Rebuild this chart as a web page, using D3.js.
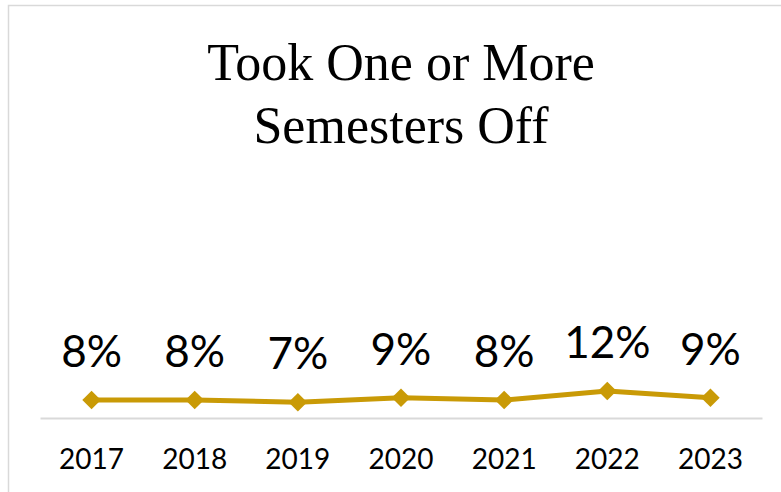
<!DOCTYPE html>
<html>
<head>
<meta charset="utf-8">
<script src="https://cdn.jsdelivr.net/npm/d3@7"></script>
<style>
  body { margin: 0; background: #fff; }
  svg { display: block; }
</style>
</head>
<body>
<svg width="781" height="492"></svg>
<script>
// values
let years = ["2017", "2018", "2019", "2020", "2021", "2022", "2023"];
let percentages = [8, 8, 7, 9, 8, 12, 9];
let titleLines = ["Took One or More", "Semesters Off"];

let svg = d3.select("svg");
let gold = "#C99A06";

// chart frame (right and bottom edges fall outside the picture)
svg.append("rect")
    .attr("x", 8.5).attr("y", 5.5)
    .attr("width", 800).attr("height", 600)
    .attr("fill", "#fff")
    .attr("stroke", "#d9d9d9")
    .attr("stroke-width", 1.5);

svg.append("g")
    .selectAll("text")
    .data(titleLines)
    .enter()
    .append("text")
    .attr("x", 401)
    .attr("y", function (d, i) { return 80 + i * 63; })
    .attr("text-anchor", "middle")
    .style("font-family", "'Liberation Serif', serif")
    .style("font-size", "52px")
    .attr("fill", "#000")
    .text(function (d) { return d; });

let x = d3.scaleBand()
    .domain(years)
    .range([40, 762]);

let y = d3.scaleLinear()
    .domain([0, 100])
    .range([418, 193]);

// category axis
let axis = svg.append("g")
    .attr("transform", "translate(0,418)")
    .call(d3.axisBottom(x).tickSize(0).tickPadding(0));
axis.select(".domain")
    .attr("stroke", "#d9d9d9")
    .attr("stroke-width", 2);
axis.selectAll(".tick text")
    .attr("dy", null)
    .attr("y", 51)
    .style("font-family", "Lato, sans-serif")
    .style("font-size", "28px")
    .attr("fill", "#000");

let cx = function (d, i) { return x(years[i]) + x.bandwidth() / 2; };

let line = d3.line()
    .x(cx)
    .y(function (d) { return y(d); });

svg.append("path")
    .datum(percentages)
    .attr("fill", "none")
    .attr("stroke", gold)
    .attr("stroke-width", 5)
    .attr("stroke-linejoin", "round")
    .attr("d", line);

svg.append("g")
    .selectAll("path")
    .data(percentages)
    .enter()
    .append("path")
    .attr("d", d3.symbol().type(d3.symbolDiamond2).size(220))
    .attr("transform", function (d, i) { return "translate(" + cx(d, i) + "," + y(d) + ")"; })
    .attr("fill", gold);

svg.append("g")
    .selectAll("text")
    .data(percentages)
    .enter()
    .append("text")
    .attr("x", cx)
    .attr("y", function (d) { return y(d) - 33; })
    .attr("text-anchor", "middle")
    .style("font-family", "Lato, sans-serif")
    .style("font-size", "44px")
    .attr("fill", "#000")
    .text(function (d) { return d + "%"; });
</script>
</body>
</html>
